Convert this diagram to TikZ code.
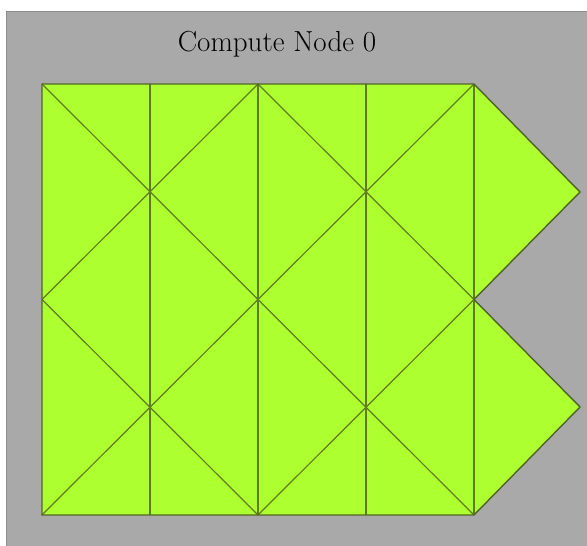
\documentclass[tikz,border=0pt]{standalone}
\usetikzlibrary{calc}
\definecolor{meshgreen}{RGB}{173,255,47}
\definecolor{meshline}{RGB}{95,125,30}
\definecolor{meshedge}{RGB}{80,100,40}
\definecolor{nodegray}{RGB}{169,169,169}
\definecolor{nodeframe}{RGB}{140,140,140}
\begin{document}
\begin{tikzpicture}[x=1pt,y=-1pt]
\useasboundingbox (0,0) rectangle (587,546);
\fill[white] (0,0) rectangle (587,546);
\draw[fill=nodegray,draw=nodeframe,line width=1.5pt] (6.5,11.5) rectangle (595,555);
\node[font=\fontsize{29}{34}\selectfont,anchor=base] (title) at (277,51) {Compute Node 0};
\foreach \i in {0,...,4}
  \foreach \j in {0,...,4}
    \coordinate (v\i\j) at (42+108*\i,84+107.75*\j);
\coordinate (t1) at (580,192);
\coordinate (t3) at (580,407);
\fill[meshgreen] (v00) -- (v40) -- (t1) -- (v42) -- (t3) -- (v44) -- (v04) -- cycle;
\foreach \i in {1,...,4}
  \draw[meshline,line width=1.2pt] (v\i0) -- (v\i4);
\draw[meshline,line width=1.2pt] (v00) -- (v44);
\draw[meshline,line width=1.2pt] (v02) -- (v24);
\draw[meshline,line width=1.2pt] (v20) -- (v42);
\draw[meshline,line width=1.2pt] (v40) -- (v04);
\draw[meshline,line width=1.2pt] (v20) -- (v02);
\draw[meshline,line width=1.2pt] (v42) -- (v24);
\draw[meshedge,line width=1.4pt,line join=miter] (v00) -- (v40) -- (t1) -- (v42) -- (t3) -- (v44) -- (v04) -- cycle;
\end{tikzpicture}
\end{document}
